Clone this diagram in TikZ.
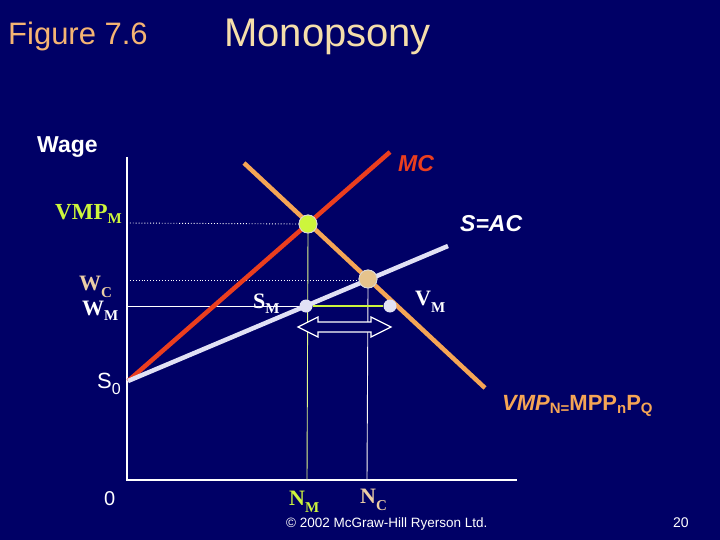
\documentclass[tikz,border=0pt]{standalone}
\usepackage{fontspec}
\setmainfont{Liberation Sans}
\newfontfamily\tms{Liberation Serif}
\newcommand\fsz[1]{\fontsize{#1}{#1}\selectfont}
\definecolor{bg}{RGB}{0,0,102}
\definecolor{figc}{RGB}{245,180,115}
\definecolor{titc}{RGB}{245,222,170}
\definecolor{mcred}{RGB}{235,62,30}
\definecolor{vmpor}{RGB}{245,165,85}
\definecolor{sline}{RGB}{225,225,245}
\definecolor{limec}{RGB}{205,245,60}
\definecolor{tanc}{RGB}{230,195,140}
\definecolor{tantxt}{RGB}{235,205,165}
\begin{document}
\begin{tikzpicture}[x=1pt,y=-1pt,
  lbl/.style={anchor=base west,inner sep=0pt,text=white},
  axisline/.style={white,line width=1.1pt},
  guide/.style={white,line width=0.9pt,dotted},
  curve/.style={line width=4.5pt},
  bigdot/.style={circle,inner sep=0pt,minimum size=18pt,draw=white!85!black,line width=0.8pt},
  smalldot/.style={circle,inner sep=0pt,minimum size=13pt,fill=sline},
  arrowshape/.style={draw=white,fill=bg,line width=1.2pt,line join=miter}]
\useasboundingbox (0,0) rectangle (720,540);
\fill[bg] (0,0) rectangle (720,540);

% titles
\node[lbl,text=figc] (fig) at (8,45) {\fsz{31}Figure 7.6};
\node[lbl,text=titc] (title) at (224,47) {\fsz{40}Monopsony};

% axes
\coordinate (top) at (127,157);
\coordinate (orig) at (127,480);
\coordinate (xend) at (517,480);
\draw[axisline] (top) -- (orig) -- (xend);

% key points
\coordinate (S0pt) at (128,381);
\coordinate (mcend) at (390,152);
\coordinate (send) at (448,246);
\coordinate (vstart) at (244,163);
\coordinate (vend) at (485,388);
\coordinate (yvmp) at (127,223);
\coordinate (ywc) at (127,280);
\coordinate (ywm) at (127,306);
\coordinate (xnm) at (307,480);
\coordinate (xnc) at (367,480);

% guide lines
\node[bigdot,fill=limec] (gdot) at (308,224) {};
\node[bigdot,fill=tanc] (tdot) at (368,279) {};
\draw[guide] (yvmp) -- (gdot.west);
\draw[guide] (ywc) -- (tdot.west |- ywc);
\draw[white,line width=0.9pt] (ywm) -- (306,306);
\draw[limec!60!white,line width=0.9pt] (gdot.south) -- (xnm);
\draw[white!90!tanc,line width=0.9pt] (tdot.south) -- (xnc);

% curves
\draw[curve,mcred] (S0pt) -- (mcend);
\draw[curve,vmpor] (vstart) -- (vend);
\draw[curve,sline] (S0pt) -- (send);

% redraw dots on top
\node[bigdot,fill=limec] at (gdot) {};
\node[bigdot,fill=tanc] at (tdot) {};
\node[smalldot] (smdot) at (306,306) {};
\node[smalldot] (vmdot) at (390,306) {};
\draw[limec,line width=2.5pt] (smdot.east) -- (vmdot.west);

% double arrow
\draw[arrowshape] (298,327) -- (318,317) -- (318,322) -- (371,322) -- (371,317)
  -- (391,327) -- (371,337) -- (371,332) -- (318,332) -- (318,337) -- cycle;

% labels
\node[lbl] (wage) at (37,153) {\fsz{23}\bfseries Wage};
\node[lbl,text=mcred] (mc) at (398,172) {\fsz{23}\bfseries\itshape MC};
\node[lbl] (sac) at (460,232) {\fsz{23}\bfseries\itshape S=AC};
\node[lbl,text=limec] (vmpm) at (55,219) {\tms\bfseries\fsz{23}VMP\raisebox{-5pt}{\fsz{15}M}};
\node[lbl,text=tantxt] (wcl) at (79,290) {\tms\bfseries\fsz{22}W\raisebox{-7pt}{\fsz{15}C}};
\node[lbl] (wml) at (82,315) {\tms\bfseries\fsz{22}W\raisebox{-5pt}{\fsz{15}M}};
\node[lbl] (s0) at (97,388) {\fsz{22}S\raisebox{-6pt}{\fsz{16}0}};
\node[lbl] (zero) at (104,505) {\fsz{20}0};
\node[lbl] (sm) at (253,308) {\tms\bfseries\fsz{22}S\raisebox{-5pt}{\fsz{15}M}};
\node[lbl] (vm) at (415,305) {\tms\bfseries\fsz{22}V\raisebox{-7pt}{\fsz{15}M}};
\node[lbl,text=limec] (nm) at (289,505) {\tms\bfseries\fsz{22}N\raisebox{-7pt}{\fsz{15}M}};
\node[lbl,text=tantxt] (nc) at (360,503) {\tms\bfseries\fsz{22}N\raisebox{-7pt}{\fsz{15}C}};
\node[lbl,text=vmpor] (vmpn) at (502,410) {\fsz{22}\bfseries{\itshape VMP}\raisebox{-3pt}{\fsz{15}N=}MPP\raisebox{-3pt}{\fsz{15}n}P\raisebox{-3pt}{\fsz{15}Q}};
\node[lbl] (copy) at (286,527) {\fsz{13.5}© 2002 McGraw-Hill Ryerson Ltd.};
\node[lbl] (pg) at (673,527) {\fsz{14}20};
\end{tikzpicture}
\end{document}
